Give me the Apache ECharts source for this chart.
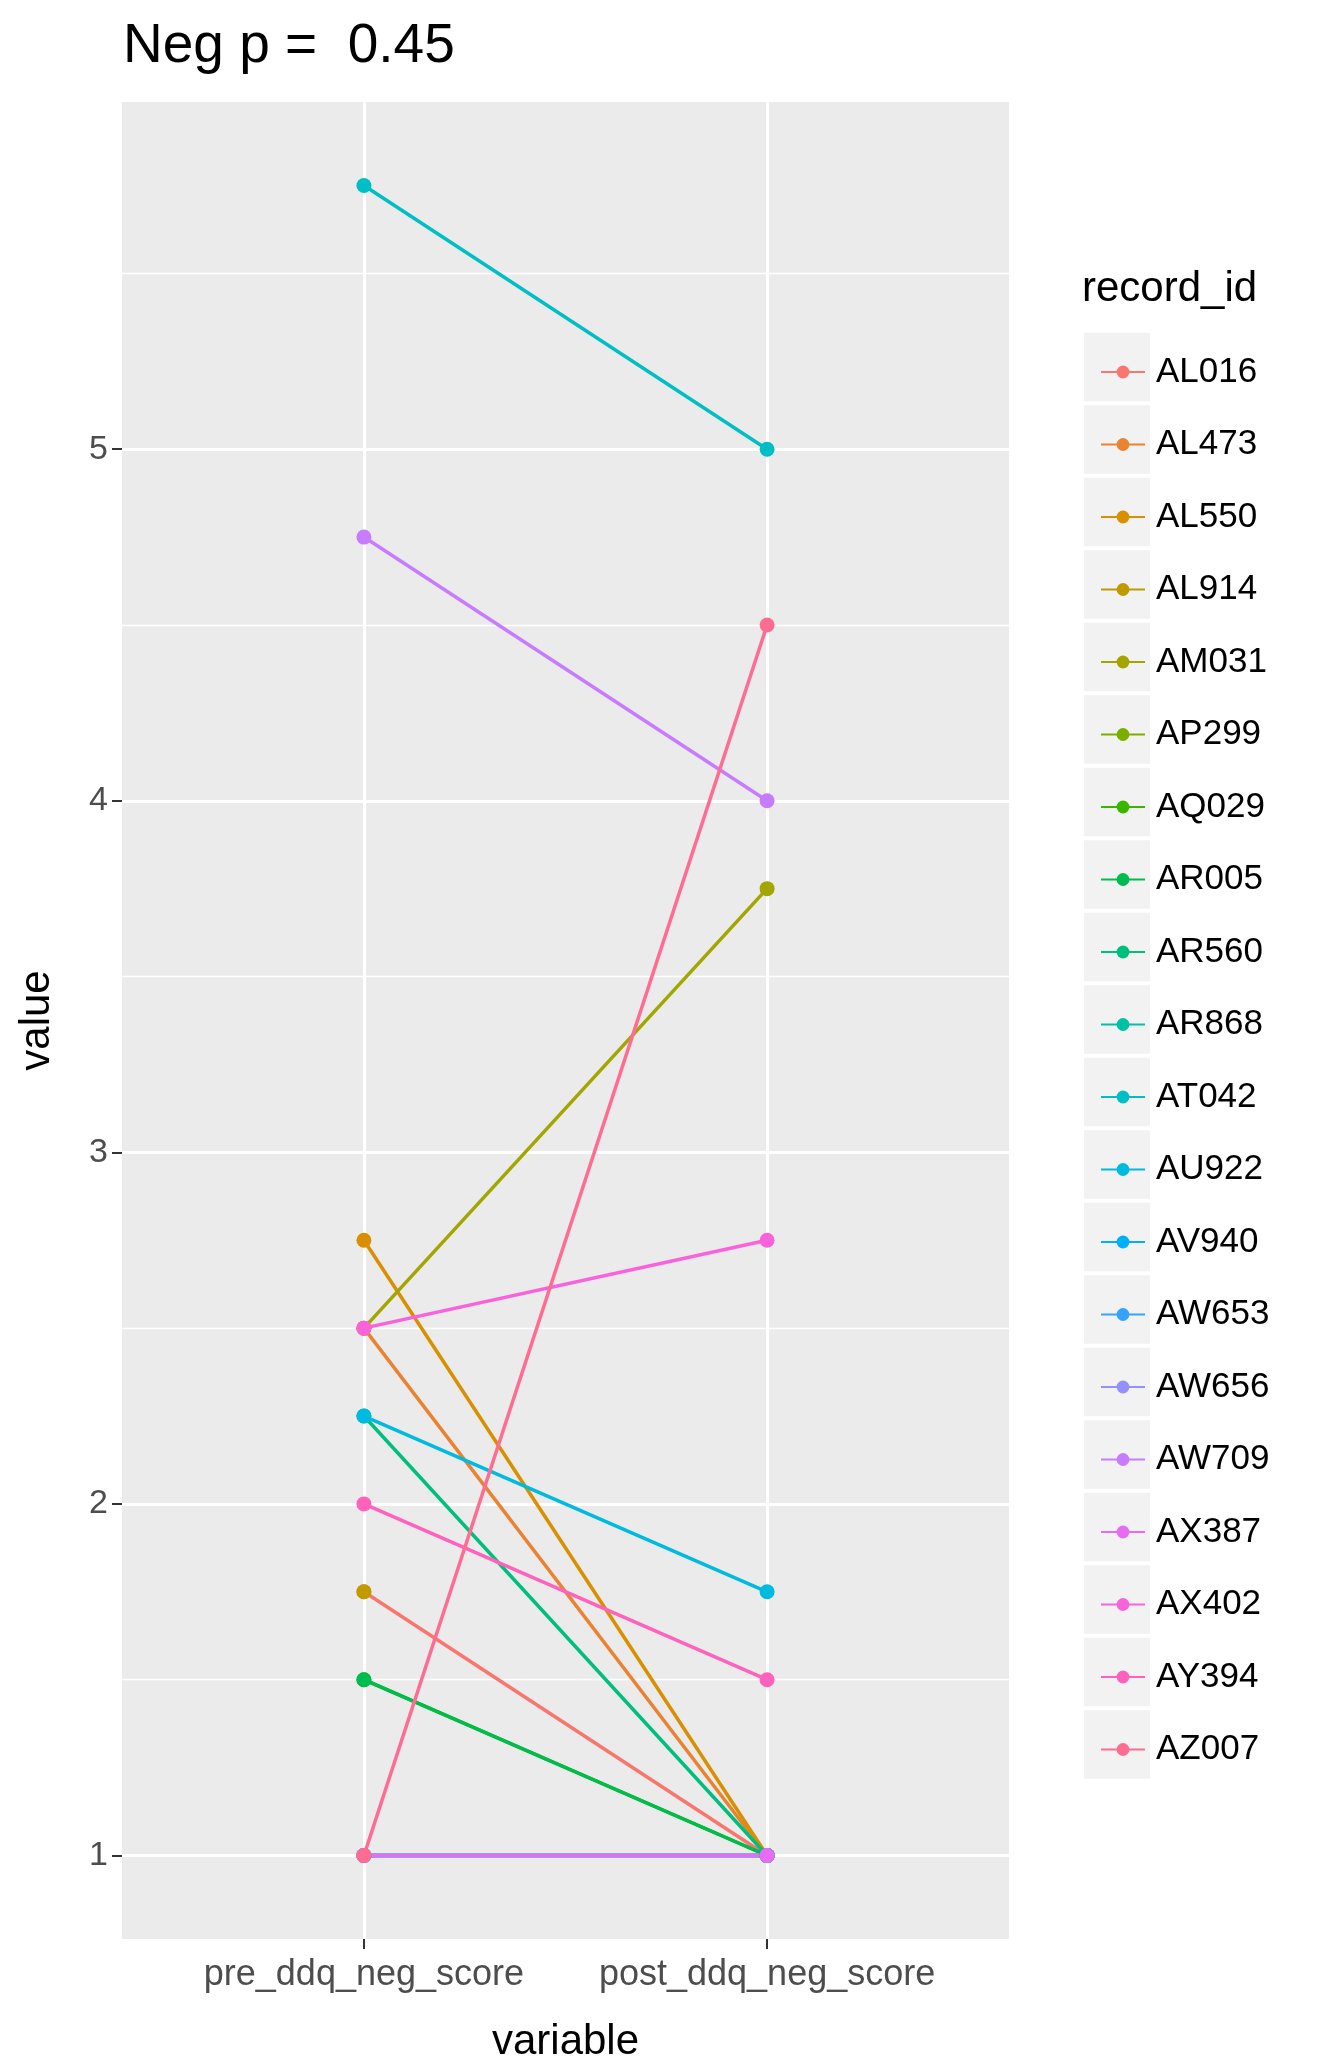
<!DOCTYPE html>
<html>
<head>
<meta charset="utf-8">
<script src="https://cdn.jsdelivr.net/npm/echarts@6/dist/echarts.min.js"></script>
<style>html,body{margin:0;background:#fff}#c{width:1328px;height:2068px}</style>
</head>
<body>
<div id="c"></div>
<script>
const ids = ['AL016','AL473','AL550','AL914','AM031','AP299','AQ029','AR005','AR560','AR868',
  'AT042','AU922','AV940','AW653','AW656','AW709','AX387','AX402','AY394','AZ007'];
const colors = ['#F8766D','#EA8331','#D89000','#C09B00','#A3A500','#7CAE00','#39B600','#00BB4E','#00BF7D','#00C1A3',
  '#00BFC4','#00BAE0','#00B0F6','#35A2FF','#9590FF','#C77CFF','#E76BF3','#FA62DB','#FF62BC','#FF6C91'];
const preScore  = [1.75,2.5,2.75,1.75,2.5,1,1.5,1.5,2.25,1,5.75,2.25,1,1,1,4.75,1,2.5,2,1];
const postScore = [1,1,1,null,3.75,1,1,1,1,1,5,1.75,1,1,1,4,1,2.75,1.5,4.5];
const xLabels = ['pre_ddq_neg_score','post_ddq_neg_score'];
const yTicks = [1,2,3,4,5];
const yMinor = [1.5,2.5,3.5,4.5,5.5];

const chart = echarts.init(document.getElementById('c'));
const font = 'Liberation Sans, Arial, sans-serif';
const legendTop = 367, legendStep = 72.5;
chart.setOption({
  animation: false,
  color: colors,
  title: {text: 'Neg p =  0.45', left: 118, top: 14, textStyle: {fontFamily: font, fontSize: 55, fontWeight: 'normal', color: '#000'}},
  grid: {left: 122, top: 102, width: 887, height: 1850, show: true, backgroundColor: '#EBEBEB', borderWidth: 0},
  xAxis: {
    type: 'value', min: 0.4, max: 2.6,
    name: 'variable', nameLocation: 'middle', nameGap: 82,
    nameTextStyle: {fontFamily: font, fontSize: 42, color: '#000'},
    axisLine: {show: false},
    axisTick: {show: true, customValues: [1,2], length: 10, lineStyle: {color: '#333', width: 2}},
    axisLabel: {customValues: [1,2], formatter: v => xLabels[Math.round(v)-1], fontFamily: font, fontSize: 36, color: '#4D4D4D', margin: 18},
    splitLine: {show: true, lineStyle: {color: '#fff', width: 3}}
  },
  yAxis: [{
    type: 'value', min: 0.7625, max: 5.9875,
    name: 'value', nameLocation: 'middle', nameGap: 64, nameRotate: 90,
    nameTextStyle: {fontFamily: font, fontSize: 42, color: '#000'},
    axisLine: {show: false},
    axisTick: {show: true, customValues: yTicks, length: 10, lineStyle: {color: '#333', width: 2}},
    axisLabel: {customValues: yTicks, fontFamily: font, fontSize: 34, color: '#4D4D4D', margin: 14},
    splitLine: {show: true, lineStyle: {color: '#fff', width: 3}}
  }, {
    type: 'value', min: 0.7625, max: 5.9875, position: 'left',
    axisLine: {show: false}, axisLabel: {show: false},
    axisTick: {show: false, customValues: yMinor},
    splitLine: {show: true, lineStyle: {color: '#fff', width: 1.3}}
  }],
  legend: {
    orient: 'vertical', left: 1095, top: legendTop - 20, itemWidth: 44, itemHeight: 16, itemGap: legendStep - 40,
    data: ids, textStyle: {fontFamily: font, fontSize: 35, lineHeight: 40, height: 40, color: '#000', padding: [0,0,0,6]}
  },
  graphic: [
    {type: 'text', left: 1082, top: 268, style: {text: 'record_id', font: '42px ' + font, fill: '#000'}}
  ].concat(ids.map((_, i) => ({type: 'rect', z: -1, shape: {x: 1084, y: legendTop - legendStep/2 + 2, width: 66, height: legendStep - 4}, position: [0, i*legendStep], style: {fill: '#F2F2F2'}}))),
  series: ids.map((id, i) => ({
    name: id, type: 'line', symbol: 'circle', symbolSize: 15,
    lineStyle: {width: 3.5}, itemStyle: {color: colors[i]},
    data: [[1, preScore[i]], [2, postScore[i]]]
  }))
});
</script>
</body>
</html>
